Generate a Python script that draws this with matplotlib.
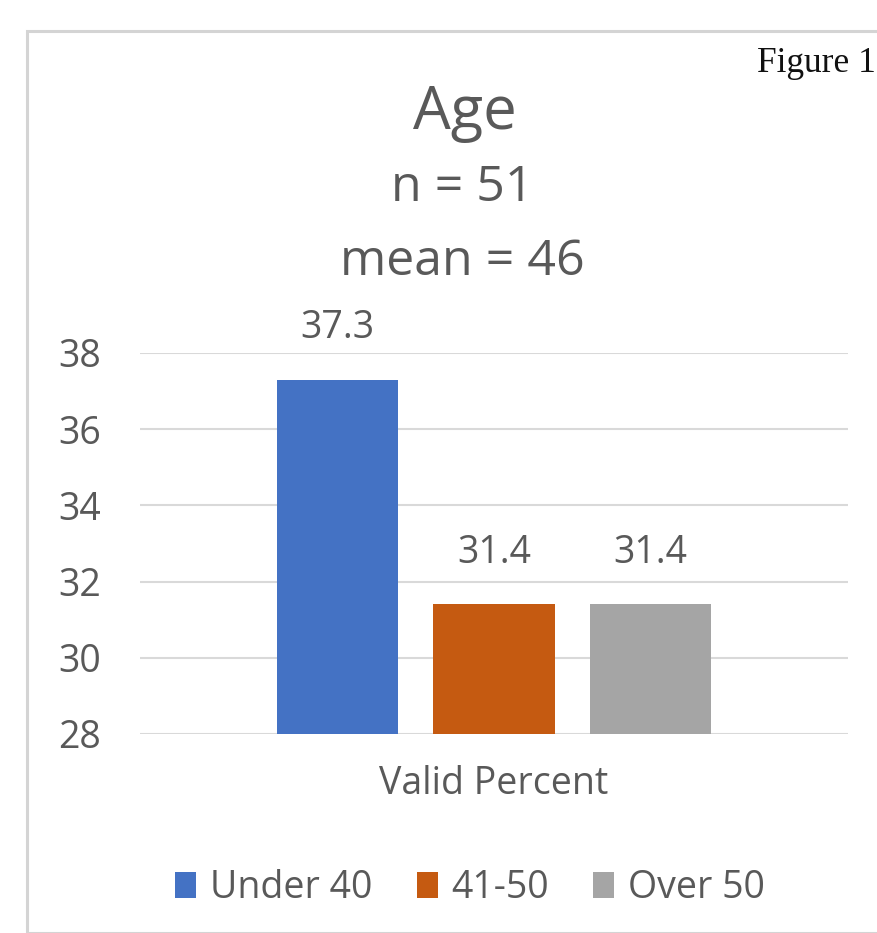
import matplotlib.pyplot as plt
from matplotlib.patches import Rectangle

plt.rcParams['font.family'] = ['Open Sans', 'DejaVu Sans']

# age groups, valid percent of respondents
groups = ['Under 40', '41-50', 'Over 50']
valid_pct = [37.3, 31.4, 31.4]
colors = ['#4472C4', '#C55A11', '#A5A5A5']
yticks = [28, 30, 32, 34, 36, 38]

txt = '#595959'
W, H = 877, 933
fig = plt.figure(figsize=(W / 100, H / 100), dpi=100)

# outer chart frame
fig.patches.append(Rectangle((27 / W, 0), 1, 1 - 31 / H, transform=fig.transFigure,
                             fill=False, edgecolor='#d4d4d4', lw=2.2))

fig.text(757 / W, 1 - 64 / H, 'Figure 1', family='Liberation Serif', fontsize=25.5,
         color='#111111', va='center', ha='left')
fig.text(465 / W, 1 - 113 / H, 'Age', fontsize=43, color=txt, ha='center', va='center')
fig.text(462 / W, 1 - 188 / H, 'n = 51', fontsize=36, color=txt, ha='center', va='center')
fig.text(462 / W, 1 - 262 / H, 'mean = 46', fontsize=36, color=txt, ha='center', va='center')

ax = fig.add_axes([140 / W, 199 / H, 708 / W, 381 / H])
offsets = [-0.221, 0, 0.221]
for off, v, c, g in zip(offsets, valid_pct, colors, groups):
    ax.bar(off, v - 28, bottom=28, width=0.172, color=c, label=g, zorder=2)
    ax.text(off, v + 0.85, f'{v}', ha='center', va='bottom', fontsize=27, color=txt)

ax.set_xlim(-0.5, 0.5)
ax.set_ylim(28, 38)
ax.set_yticks(yticks)
ax.set_yticklabels([str(t) for t in yticks], fontsize=27, color=txt)
ax.tick_params(axis='y', length=0, pad=28)
ax.set_xticks([0])
ax.set_xticklabels(['Valid Percent'], fontsize=27, color=txt)
ax.tick_params(axis='x', length=0, pad=22)
ax.grid(axis='y', color='#d9d9d9', lw=1.5, zorder=0)
for s in ax.spines.values():
    s.set_visible(False)

fig.legend(loc='center', bbox_to_anchor=(470 / W, 1 - 888 / H), ncol=3, frameon=False,
           fontsize=27, labelcolor=txt, handlelength=0.56, handleheight=0.72,
           handletextpad=0.37, columnspacing=1.17)

fig.savefig('out.png', dpi=100)
